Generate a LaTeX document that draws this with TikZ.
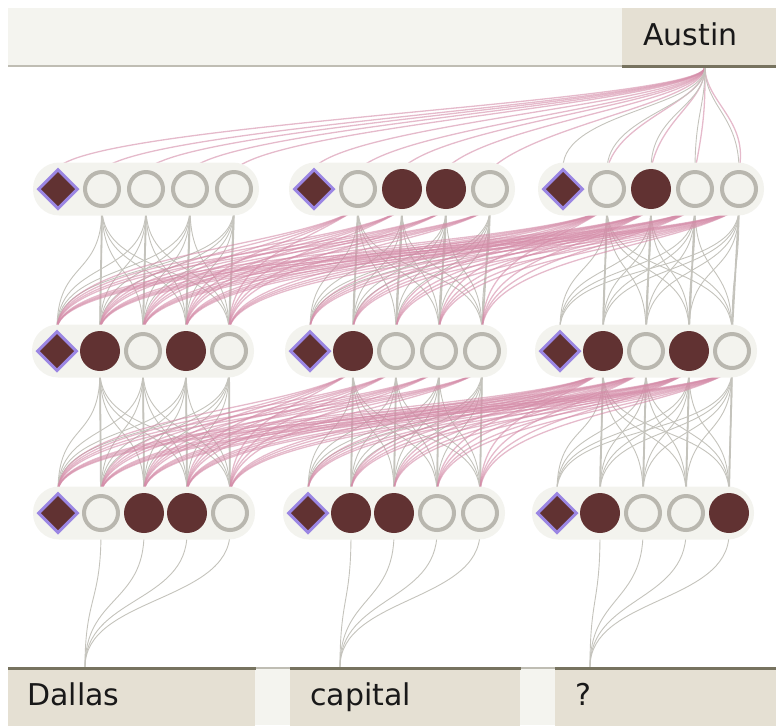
\documentclass[tikz,border=0pt]{standalone}
\usepackage{fontspec}
\setmainfont{DejaVu Sans}
\usetikzlibrary{shapes.geometric}
\definecolor{pillbg}{HTML}{F3F3EE}
\definecolor{barlight}{HTML}{F4F4EF}
\definecolor{barline}{HTML}{BFBDB3}
\definecolor{tokbeige}{HTML}{E5E0D3}
\definecolor{tokdark}{HTML}{77735F}
\definecolor{cellred}{HTML}{613232}
\definecolor{ring}{HTML}{B9B7AF}
\definecolor{gatering}{HTML}{9B86E3}
\definecolor{wiregray}{HTML}{C4C3BC}
\definecolor{wirepink}{HTML}{D48CA8}
\pgfdeclarelayer{wires}
\pgfsetlayers{wires,main}
\tikzset{
  pill/.style={rectangle, fill=pillbg, rounded corners=13pt, minimum height=26.5pt, inner sep=0pt},
  gate/.style={diamond, aspect=1, fill=cellred, draw=gatering, line width=1.5pt, minimum size=20pt, inner sep=0pt},
  cellon/.style={circle, fill=cellred, minimum size=20pt, inner sep=0pt},
  celloff/.style={circle, fill=pillbg, draw=ring, line width=2pt, minimum size=17pt, inner sep=0pt},
  wire/.style={draw=wiregray, line width=0.45pt},
  trunk/.style={draw=wiregray, line width=0.9pt},
  attn/.style={draw=wirepink, line width=0.65pt, opacity=0.6},
  tokbox/.style={fill=tokbeige, anchor=north west, minimum height=29pt, inner xsep=10pt, inner ysep=0pt, text height=11pt, text depth=3pt, align=left, text=black!90, font=\fontsize{15}{18}\selectfont},
  tokline/.style={draw=tokdark, line width=1.5pt}
}
\begin{document}
\begin{tikzpicture}[x=0.5pt, y=-0.5pt]
\useasboundingbox (0,0) rectangle (776,725);
\fill[barlight] (8,8) rectangle (622,66);
\draw[barline, line width=1pt] (8,66) -- (622,66);
\node[tokbox, inner xsep=10.5pt, text width=56pt] (austin) at (622,8) {Austin};
\draw[tokline] (austin.south west) -- (austin.south east);
\coordinate (austin-port) at (705,67);
\fill[barlight] (8,668) rectangle (776,725);
\draw[barline, line width=1pt] (8,668) -- (776,668);
\node[tokbox, inner xsep=9.5pt, text width=104.5pt] (dallas) at (8,668) {Dallas};
\node[tokbox, text width=95pt] (capital) at (290,668) {capital};
\node[tokbox, text width=90.5pt] (query) at (555,668) {?};
\draw[tokline] (dallas.north west) -- (dallas.north east);
\draw[tokline] (capital.north west) -- (capital.north east);
\draw[tokline] (query.north west) -- (query.north east);
\coordinate (dallas-port) at (85,667);
\coordinate (capital-port) at (340,667);
\coordinate (query-port) at (590,667);
\foreach \nm/\x/\y/\dx/\fa/\fb/\fc/\fd in {
  a1/58/189/44/celloff/celloff/celloff/celloff, b1/314/189/44/celloff/cellon/cellon/celloff, c1/563/189/44/celloff/cellon/celloff/celloff,
  a2/57/351/43/cellon/celloff/cellon/celloff, b2/310/351/43/cellon/celloff/celloff/celloff, c2/560/351/43/cellon/celloff/cellon/celloff,
  a3/58/513/43/celloff/cellon/cellon/celloff, b3/308/513/43/cellon/cellon/celloff/celloff, c3/557/513/43/cellon/celloff/celloff/cellon}
{
  \node[pill, minimum width={(4*\dx+50)*0.5pt}] (\nm) at ({\x+2*\dx},\y) {};
  \node[gate] (\nm-0) at (\x,\y) {};
  \node[\fa] (\nm-1) at ({\x+\dx},\y) {};
  \node[\fb] (\nm-2) at ({\x+2*\dx},\y) {};
  \node[\fc] (\nm-3) at ({\x+3*\dx},\y) {};
  \node[\fd] (\nm-4) at ({\x+4*\dx},\y) {};
}
\begin{pgfonlayer}{wires}
\foreach \lo/\up in {a3/a2, b3/b2, c3/c2, a2/a1, b2/b1, c2/c1} {
  \foreach \i in {0,...,4}
    \foreach \j in {1,...,4}
      \draw[wire] (\lo-\i.north) .. controls +(0,-70) and +(0,70) .. (\up-\j.south);
  \foreach \j in {1,...,4}
    \draw[trunk] (\lo-\j.north) -- (\up-\j.south);
}
\foreach \lo/\up in {a3/b2, a3/c2, b3/c2, a2/b1, a2/c1, b2/c1}
  \foreach \i in {0,...,4}
    \foreach \j in {1,...,4}
      \draw[attn] (\lo-\i.north) .. controls +(0,-75) and +(-60,40) .. (\up-\j.south);
\foreach \up in {a1,b1}
  \foreach \j in {0,...,4}
    \draw[attn] (austin-port) .. controls +(0,35) and +(45,-45) .. (\up-\j.north);
\foreach \j in {1,...,4}
  \draw[attn] (austin-port) .. controls +(0,35) and +(10,-50) .. (c1-\j.north);
\foreach \j in {0,...,4}
  \draw[wire] (austin-port) .. controls +(0,40) and +(0,-55) .. (c1-\j.north);
\foreach \tok/\up in {dallas/a3, capital/b3, query/c3}
  \foreach \j in {1,...,4}
    \draw[wire] (\tok-port) .. controls +(0,-70) and +(0,70) .. (\up-\j.south);
\end{pgfonlayer}
\end{tikzpicture}
\end{document}
